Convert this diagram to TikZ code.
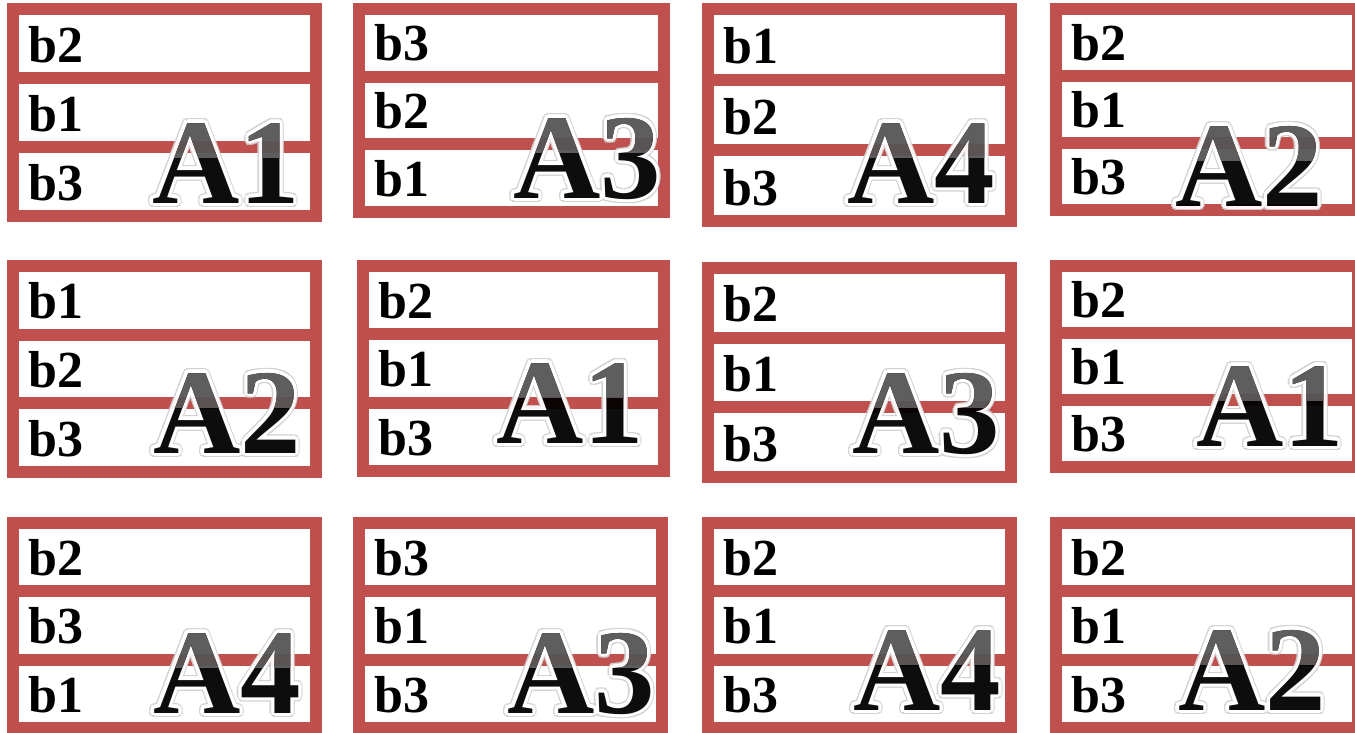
\documentclass[tikz,border=0pt]{standalone}
\usepackage{fontspec}
\setmainfont{Liberation Serif}
\definecolor{slotred}{RGB}{192, 80, 77}
\definecolor{glossgray}{RGB}{85, 85, 85}
\usetikzlibrary{calc}
\tikzset{
	frame/.style={draw=slotred, line width=12pt},
	divider/.style={draw=slotred, line width=12pt},
	slot/.style={anchor=base west, inner sep=0pt, font=\bfseries\fontsize{52}{52}\selectfont},
	biglabel/.style={anchor=base, inner sep=0pt, font=\bfseries\fontsize{121}{121}\selectfont},
}

\begin{document}
\begin{tikzpicture}[x=1pt, y=-1pt]
		\useasboundingbox (0,0) rectangle (1355,732);
		\foreach \id/\xa/\ya/\xb/\yb/\ta/\tb/\tc/\lbl/\lx/\ly in {
			11/7/3/322/222/b2/b1/b3/A1/226/203,
			12/353/3/670/218/b3/b2/b1/A3/587/198,
			13/702/3/1017/227/b1/b2/b3/A4/921/203,
			14/1050/3/1364/216/b2/b1/b3/A2/1249/206,
			21/7/260/322/478/b1/b2/b3/A2/227/453,
			22/357/260/670/477/b2/b1/b3/A1/570/443,
			23/702/262/1017/483/b2/b1/b3/A3/926/453,
			24/1050/260/1364/473/b2/b1/b3/A1/1270/446,
			31/7/517/322/734/b2/b3/b1/A4/227/713,
			32/353/517/668/734/b3/b1/b3/A3/581/713,
			33/702/517/1017/734/b2/b1/b3/A4/927/710,
			34/1050/517/1364/734/b2/b1/b3/A2/1252/710}
		{
			% frame with three rows
			\pgfmathsetmacro\rh{(\yb-\ya-48)/3}
			\draw[frame] (\xa+6,\ya+6) rectangle (\xb-6,\yb-6);
			\draw[divider] (\xa+12,\ya+18+\rh) -- (\xb-12,\ya+18+\rh);
			\draw[divider] (\xa+12,\ya+30+2*\rh) -- (\xb-12,\ya+30+2*\rh);
			\node[slot] (s\id a) at (\xa+21,\ya+2+\rh) {\ta};
			\node[slot] (s\id b) at (\xa+21,\ya+14+2*\rh) {\tb};
			\node[slot] (s\id c) at (\xa+21,\ya+26+3*\rh) {\tc};
			% glossy big label
			\begin{scope}[transparency group, opacity=0.95]
				\foreach \a in {0,22.5,...,337.5}
					\node[biglabel, text=black!18] (g\id-\a) at ($(\lx,\ly)+(\a:4.5)$) {\lbl};
				\foreach \a in {0,22.5,...,337.5}
					\node[biglabel, text=white] (h\id-\a) at ($(\lx,\ly)+(\a:3.2)$) {\lbl};
				\node[biglabel, text=black] (big\id) at (\lx,\ly) {\lbl};
				\clip (\lx-120,\ly-150) rectangle (\lx+120,\ly-46);
				\node[biglabel, text=glossgray] (top\id) at (\lx,\ly) {\lbl};
			\end{scope}
		}
	\end{tikzpicture}
\end{document}
